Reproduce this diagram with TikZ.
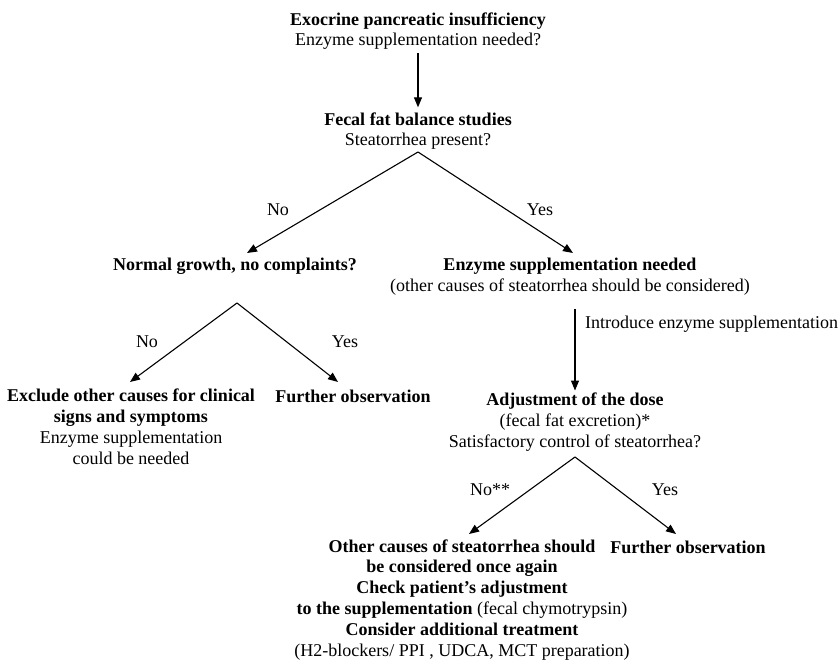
\documentclass[tikz,border=0pt]{standalone}
\usepackage{fontspec}
\setmainfont{Liberation Serif}
\usetikzlibrary{arrows.meta}
\newcommand{\chartfont}{\fontsize{18}{20.8}\selectfont}
\tikzset{
  box/.style={align=center, inner sep=0pt, anchor=base, font=\chartfont},
  lbl/.style={inner sep=0pt, anchor=base, font=\chartfont},
  arr/.style={-{Triangle[length=10pt,width=8pt]}, line width=1.1pt},
}

\begin{document}
\begin{tikzpicture}[x=1pt,y=-1pt]
\useasboundingbox (0,0) rectangle (838,663);
% text blocks (base = last line)
\node[box] (exo) at (418,46) {\textbf{Exocrine pancreatic insufficiency}\\Enzyme supplementation needed?};
\node[box] (fecal) at (418,146) {\textbf{Fecal fat balance studies}\\Steatorrhea present?};
\node[box] (normal) at (235,270) {\textbf{Normal growth, no complaints?}};
\node[box] (enzyme) at (570,291) {\textbf{Enzyme supplementation needed}\\(other causes of steatorrhea should be considered)};
\node[box] (exclude) at (131,464) {\textbf{Exclude other causes for clinical}\\\textbf{signs and symptoms}\\Enzyme supplementation\\could be needed};
\node[box] (further) at (353,402) {\textbf{Further observation}};
\node[box] (adjust) at (575,447) {\textbf{Adjustment of the dose}\\(fecal fat excretion)*\\Satisfactory control of steatorrhea?};
\node[box] (other) at (462,656) {\textbf{Other causes of steatorrhea should}\\\textbf{be considered once again}\\\textbf{Check patient’s adjustment}\\\textbf{to the supplementation} (fecal chymotrypsin)\\\textbf{Consider additional treatment}\\(H2-blockers/ PPI , UDCA, MCT preparation)};
\node[box] (furthertwo) at (688,553) {\textbf{Further observation}};
% branch points and arrow tips
\coordinate (forkA) at (418,152);
\coordinate (tipA) at (247,253);
\coordinate (tipB) at (573,253);
\coordinate (forkB) at (237,303);
\coordinate (tipC) at (130,382);
\coordinate (tipD) at (338,382);
\coordinate (forkC) at (575,457);
\coordinate (tipE) at (469,534);
\coordinate (tipF) at (676,534);
% connectors
\draw[arr, shorten <=3pt, shorten >=5pt] (exo) -- (fecal);
\draw[arr] (forkA) -- (tipA);
\draw[arr] (forkA) -- (tipB);
\draw[arr] (forkB) -- (tipC);
\draw[arr] (forkB) -- (tipD);
\draw[arr] ([yshift=-14pt]enzyme.south -| adjust.north) -- ([yshift=2pt]adjust.north);
\draw[arr] (forkC) -- (tipE);
\draw[arr] (forkC) -- (tipF);
% labels
\node[lbl] (noA) at (278,216) {No};
\node[lbl] (yesA) at (540,216) {Yes};
\node[lbl] (noB) at (147,347) {No};
\node[lbl] (yesB) at (345,347) {Yes};
\node[lbl, anchor=base west] (intro) at (585,328) {Introduce enzyme supplementation};
\node[lbl] (noC) at (490,495) {No**};
\node[lbl] (yesC) at (665,495) {Yes};
\end{tikzpicture}
\end{document}
